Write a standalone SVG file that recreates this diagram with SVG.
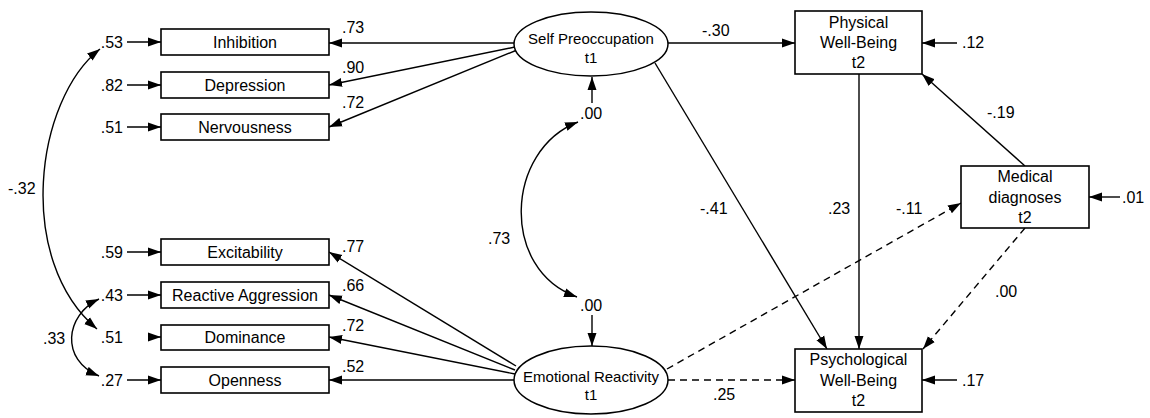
<svg xmlns="http://www.w3.org/2000/svg" width="1150" height="418" viewBox="0 0 1150 418">
<defs>
<marker id="ah" markerUnits="userSpaceOnUse" markerWidth="14" markerHeight="10" refX="13" refY="5" orient="auto-start-reverse"><path d="M0,0.5 L13,5 L0,9.5 z" fill="#000"/></marker>
<style>
.box{fill:#fff;stroke:#000;stroke-width:1.6}
.lat{fill:#fff;stroke:#000;stroke-width:1.5}
.t{font-family:"Liberation Sans",Arial,sans-serif;font-size:16px;fill:#000;text-anchor:middle}
.te{font-family:"Liberation Sans",Arial,sans-serif;font-size:15px;fill:#000;text-anchor:middle}
.n{font-family:"Liberation Sans",Arial,sans-serif;font-size:16px;fill:#000}
.c{fill:none;stroke:#000;stroke-width:1.4;marker-end:url(#ah)}
.d{fill:none;stroke:#000;stroke-width:1.4;stroke-dasharray:7 5;marker-end:url(#ah)}
.cv{fill:none;stroke:#000;stroke-width:1.4;marker-start:url(#ah);marker-end:url(#ah)}
</style>
</defs>
<rect width="1150" height="418" fill="#fff"/>
<g id="connectors">
<line class="c" x1="127" y1="42" x2="161" y2="42"/>
<line class="c" x1="127" y1="85" x2="161" y2="85"/>
<line class="c" x1="127" y1="127" x2="161" y2="127"/>
<line class="c" x1="127" y1="252" x2="161" y2="252"/>
<line class="c" x1="127" y1="295" x2="161" y2="295"/>
<line class="c" x1="148" y1="337" x2="161" y2="337"/>
<line class="c" x1="127" y1="380" x2="161" y2="380"/>
<path class="cv" d="M100 49 C35 100,15 260,97 329"/>
<path class="cv" d="M99 299 C65 315,60 360,99 376"/>
<line class="c" x1="515" y1="43" x2="329" y2="43"/>
<line class="c" x1="515" y1="47" x2="329" y2="85"/>
<line class="c" x1="517" y1="50" x2="329" y2="127"/>
<line class="c" x1="516" y1="366" x2="329" y2="252"/>
<line class="c" x1="515" y1="370" x2="329" y2="295"/>
<line class="c" x1="515" y1="374" x2="329" y2="337"/>
<line class="c" x1="514" y1="380" x2="329" y2="380"/>
<line class="c" x1="592" y1="103" x2="592" y2="77"/>
<line class="c" x1="592" y1="315" x2="592" y2="346"/>
<path class="cv" d="M578 122 C505 150,500 270,577 297"/>
<line class="c" x1="668" y1="43" x2="795" y2="43"/>
<line class="c" x1="957" y1="43" x2="922" y2="43"/>
<line class="c" x1="655" y1="63" x2="827" y2="349"/>
<line class="c" x1="859" y1="74" x2="859" y2="349"/>
<line class="c" x1="1025" y1="166" x2="922" y2="74"/>
<line class="c" x1="1120" y1="197" x2="1089" y2="197"/>
<line class="c" x1="957" y1="380" x2="922" y2="380"/>
<line class="d" x1="668" y1="380" x2="795" y2="380"/>
<line class="d" x1="667" y1="369" x2="961" y2="203"/>
<line class="d" x1="1025" y1="228" x2="923" y2="349"/>
</g>
<g id="labels">
<text class="n" x="123" y="48" text-anchor="end">.53</text>
<text class="n" x="123" y="91" text-anchor="end">.82</text>
<text class="n" x="123" y="133" text-anchor="end">.51</text>
<text class="n" x="123" y="258" text-anchor="end">.59</text>
<text class="n" x="123" y="301" text-anchor="end">.43</text>
<text class="n" x="123" y="343" text-anchor="end">.51</text>
<text class="n" x="123" y="386" text-anchor="end">.27</text>
<text class="n" x="8" y="194">-.32</text>
<text class="n" x="43" y="344">.33</text>
<text class="n" x="342" y="33">.73</text>
<text class="n" x="342" y="73">.90</text>
<text class="n" x="342" y="108">.72</text>
<text class="n" x="342" y="252">.77</text>
<text class="n" x="342" y="291">.66</text>
<text class="n" x="342" y="331">.72</text>
<text class="n" x="342" y="372">.52</text>
<text class="n" x="580" y="119">.00</text>
<text class="n" x="580" y="311">.00</text>
<text class="n" x="488" y="244">.73</text>
<text class="n" x="702" y="36">-.30</text>
<text class="n" x="962" y="48">.12</text>
<text class="n" x="987" y="118">-.19</text>
<text class="n" x="1122" y="203">.01</text>
<text class="n" x="700" y="214">-.41</text>
<text class="n" x="828" y="214">.23</text>
<text class="n" x="896" y="214">-.11</text>
<text class="n" x="995" y="297">.00</text>
<text class="n" x="713" y="400">.25</text>
<text class="n" x="962" y="386">.17</text>
</g>
<g id="inhibition"><rect class="box" x="161" y="29" width="168" height="26"/><text class="t" x="245" y="48">Inhibition</text></g>
<g id="depression"><rect class="box" x="161" y="72" width="168" height="26"/><text class="t" x="245" y="91">Depression</text></g>
<g id="nervousness"><rect class="box" x="161" y="114" width="168" height="26"/><text class="t" x="245" y="133">Nervousness</text></g>
<g id="excitability"><rect class="box" x="161" y="239" width="168" height="26"/><text class="t" x="245" y="258">Excitability</text></g>
<g id="reactive-aggression"><rect class="box" x="161" y="282" width="168" height="26"/><text class="t" x="245" y="301">Reactive Aggression</text></g>
<g id="dominance"><rect class="box" x="161" y="325" width="168" height="25"/><text class="t" x="245" y="343">Dominance</text></g>
<g id="openness"><rect class="box" x="161" y="367" width="168" height="26"/><text class="t" x="245" y="386">Openness</text></g>
<g id="self-preoccupation"><ellipse class="lat" cx="591" cy="44" rx="77" ry="32"/><text class="te" x="591" y="44">Self Preoccupation</text><text class="te" x="591" y="63">t1</text></g>
<g id="emotional-reactivity"><ellipse class="lat" cx="591" cy="380" rx="77" ry="34"/><text class="te" x="591" y="382">Emotional Reactivity</text><text class="te" x="591" y="400">t1</text></g>
<g id="physical-wb"><rect class="box" x="795" y="11" width="127" height="63"/><text class="t" x="858.5" y="28">Physical</text><text class="t" x="858.5" y="48">Well-Being</text><text class="t" x="858.5" y="68">t2</text></g>
<g id="medical"><rect class="box" x="961" y="166" width="128" height="62"/><text class="t" x="1025" y="182">Medical</text><text class="t" x="1025" y="203">diagnoses</text><text class="t" x="1025" y="223">t2</text></g>
<g id="psychological-wb"><rect class="box" x="795" y="349" width="127" height="63"/><text class="t" x="858.5" y="365">Psychological</text><text class="t" x="858.5" y="386">Well-Being</text><text class="t" x="858.5" y="406">t2</text></g>
</svg>
